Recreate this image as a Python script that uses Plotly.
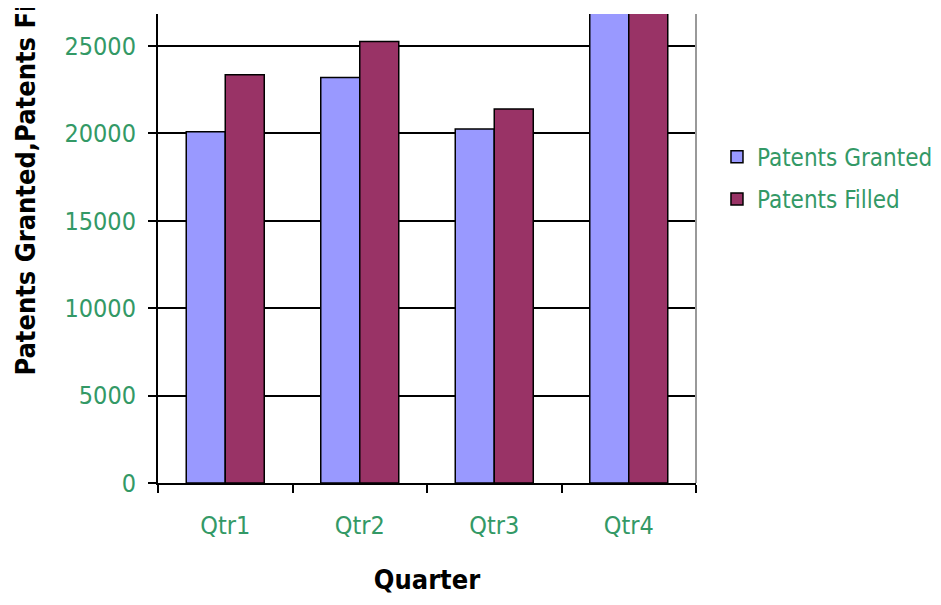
import plotly.graph_objects as go

# ── data ────────────────────────────────────────────────────────────────
quarters = ["Qtr1", "Qtr2", "Qtr3", "Qtr4"]
patents_granted = [20100, 23200, 20250, 28500]
patents_filled = [23350, 25250, 21400, 29000]

GREEN = "#339966"
FONT = "DejaVu Sans Condensed, DejaVu Sans, sans-serif"

fig = go.Figure()
fig.add_trace(go.Bar(
    x=quarters, y=patents_granted, name="Patents Granted",
    marker=dict(color="#9999FF", line=dict(color="black", width=1.5)),
    legendgroup="g1",
))
fig.add_trace(go.Bar(
    x=quarters, y=patents_filled, name="Patents Filled",
    marker=dict(color="#993366", line=dict(color="black", width=1.5)),
    legendgroup="g2",
))

# thin grey right border of the plot area
fig.add_shape(type="line", xref="paper", yref="paper", x0=1, x1=1, y0=0, y1=1,
              line=dict(color="#999999", width=2))

# y-axis title sits low and runs off the top edge (as in the original)
fig.add_annotation(
    text="<b>Patents Granted,Patents Filled</b>", textangle=-90,
    xref="paper", yref="paper", x=-0.247, y=(483 - 378) / 469,
    xanchor="center", yanchor="bottom", showarrow=False,
    font=dict(family=FONT, size=27, color="black"),
)

# page body adds an 8px offset, so margins are shifted to compensate
fig.update_layout(
    width=941, height=605,
    margin=dict(l=150, r=253, t=6, b=130),
    paper_bgcolor="white", plot_bgcolor="white",
    barmode="group", bargap=0.42, bargroupgap=0,
    font=dict(family=FONT, size=25, color=GREEN),
    legend=dict(
        x=1.039, y=0.65, xanchor="left", yanchor="middle",
        font=dict(family=FONT, size=24, color=GREEN),
        tracegroupgap=8, traceorder="grouped",
    ),
    xaxis=dict(
        automargin=False,
        showline=True, linecolor="black", linewidth=2,
        ticks="outside", tickson="boundaries", ticklen=8, tickwidth=2, tickcolor="black",
        ticklabelstandoff=19,
        tickfont=dict(family=FONT, size=25, color=GREEN),
        title=dict(text="<b>Quarter</b>", standoff=31,
                   font=dict(family=FONT, size=27, color="black")),
    ),
    yaxis=dict(
        automargin=False,
        range=[0, 26830], tickvals=[0, 5000, 10000, 15000, 20000, 25000],
        tickformat="d",
        showline=True, linecolor="black", linewidth=2,
        showgrid=True, gridcolor="black", gridwidth=1.5,
        zeroline=False,
        ticks="outside", ticklen=8, tickwidth=2, tickcolor="black",
        ticklabelstandoff=7,
        tickfont=dict(family=FONT, size=25, color=GREEN),
    ),
)

fig.write_html("out.html")
